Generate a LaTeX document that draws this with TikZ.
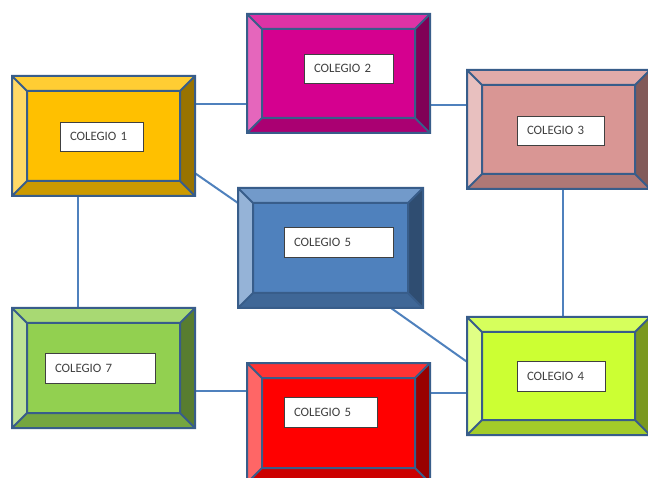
\documentclass[tikz,border=0pt]{standalone}
\usepackage{fontspec}
\setmainfont{Carlito}
\usetikzlibrary{calc}
\definecolor{outlc}{HTML}{385D8A}
\definecolor{linkc}{HTML}{4F81BD}
\definecolor{txtc}{HTML}{404040}
% yellow
\definecolor{yC}{HTML}{FFC000}\definecolor{yT}{HTML}{FFCD33}\definecolor{yL}{HTML}{FFD966}\definecolor{yR}{HTML}{997300}\definecolor{yB}{HTML}{CC9A00}
% magenta
\definecolor{mC}{HTML}{D5008F}\definecolor{mT}{HTML}{DD33A5}\definecolor{mL}{HTML}{E566BC}\definecolor{mR}{HTML}{800056}\definecolor{mB}{HTML}{AA0072}
% rose
\definecolor{rC}{HTML}{D99694}\definecolor{rT}{HTML}{E1ABA9}\definecolor{rL}{HTML}{E8C0BF}\definecolor{rR}{HTML}{825A59}\definecolor{rB}{HTML}{AE7876}
% blue
\definecolor{bC}{HTML}{4F81BD}\definecolor{bT}{HTML}{729ACA}\definecolor{bL}{HTML}{95B3D7}\definecolor{bR}{HTML}{2F4D71}\definecolor{bB}{HTML}{3F6797}
% green
\definecolor{gC}{HTML}{92D050}\definecolor{gT}{HTML}{A8D973}\definecolor{gL}{HTML}{BEE396}\definecolor{gR}{HTML}{587D30}\definecolor{gB}{HTML}{75A640}
% red
\definecolor{eC}{HTML}{FF0000}\definecolor{eT}{HTML}{FF3333}\definecolor{eL}{HTML}{FF6666}\definecolor{eR}{HTML}{990000}\definecolor{eB}{HTML}{CC0000}
% lime
\definecolor{lC}{HTML}{CCFF33}\definecolor{lT}{HTML}{D6FF5C}\definecolor{lL}{HTML}{E0FF85}\definecolor{lR}{HTML}{7A991F}\definecolor{lB}{HTML}{A3CC29}
\tikzset{
  bx/.style={rectangle, draw=none, inner sep=0pt, outer sep=0pt, minimum width=183pt, minimum height=120pt},
  outl/.style={draw=outlc, line width=2pt, line join=miter},
  link/.style={draw=linkc, line width=2pt},
  lbl/.style={rectangle, draw=black!75, line width=0.8pt, fill=white, inner xsep=10pt, inner ysep=0pt,
    minimum height=29pt, align=left, font=\fontsize{12.8}{14}\selectfont, text=txtc},
}
\newcommand\bevbox[6]{%
  \path (#1.north west) coordinate (#1-a) (#1.north east) coordinate (#1-b)
        (#1.south east) coordinate (#1-c) (#1.south west) coordinate (#1-d);
  \path ($(#1.north west)+(15pt,-15pt)$) coordinate (#1-A)
        ($(#1.north east)+(-15pt,-15pt)$) coordinate (#1-B)
        ($(#1.south east)+(-15pt,15pt)$) coordinate (#1-C)
        ($(#1.south west)+(15pt,15pt)$) coordinate (#1-D);
  \fill[#3] (#1-a)--(#1-b)--(#1-B)--(#1-A)--cycle;
  \fill[#5] (#1-b)--(#1-c)--(#1-C)--(#1-B)--cycle;
  \fill[#6] (#1-c)--(#1-d)--(#1-D)--(#1-C)--cycle;
  \fill[#4] (#1-d)--(#1-a)--(#1-A)--(#1-D)--cycle;
  \fill[#2] (#1-A) rectangle (#1-C);
  \draw[outl] (#1-a) rectangle (#1-c) (#1-A) rectangle (#1-C)
     (#1-a)--(#1-A) (#1-b)--(#1-B) (#1-c)--(#1-C) (#1-d)--(#1-D);
}
\begin{document}
\begin{tikzpicture}[x=1pt,y=1pt]
\clip (0,0) rectangle (648,477);
\fill[white] (0,0) rectangle (648,477);
% box frames
\node[bx] (c1) at (103.5,341) {};
\node[bx, minimum height=119pt] (c2) at (338.5,403.5) {};
\node[bx, minimum height=119pt] (c3) at (558.5,347.5) {};
\node[bx, minimum width=185pt] (c5) at (330.5,229) {};
\node[bx] (c7) at (103.5,109) {};
\node[bx] (c6) at (338.5,54) {};
\node[bx, minimum height=118pt] (c4) at (558.5,101) {};
% connectors
\draw[link] ($(c1.north east)!0.233!(c1.south east)$) coordinate (k1) -- (k1 -| c2.west);
\draw[link] ($(c2.north east)!0.765!(c2.south east)$) coordinate (k2) -- (k2 -| c3.west);
\draw[link] ($(c1.north east)!0.81!(c1.south east)$) -- ($(c5.north west)!0.125!(c5.south west)$);
\draw[link] ($(c1.south west)!0.36!(c1.south east)$) coordinate (k3) -- (k3 |- c7.north);
\draw[link] ($(c3.south west)!0.525!(c3.south east)$) coordinate (k4) -- (k4 |- c4.north);
\draw[link] ($(c5.south west)!0.827!(c5.south east)$) -- ($(c4.north west)!0.38!(c4.south west)$);
\draw[link] ($(c7.north east)!0.69!(c7.south east)$) coordinate (k5) -- (k5 -| c6.west);
\draw[link] ($(c6.north east)!0.25!(c6.south east)$) coordinate (k6) -- (k6 -| c4.west);
% boxes
\bevbox{c1}{yC}{yT}{yL}{yR}{yB}
\bevbox{c2}{mC}{mT}{mL}{mR}{mB}
\bevbox{c3}{rC}{rT}{rL}{rR}{rB}
\bevbox{c5}{bC}{bT}{bL}{bR}{bB}
\bevbox{c7}{gC}{gT}{gL}{gR}{gB}
\bevbox{c6}{eC}{eT}{eL}{eR}{eB}
\bevbox{c4}{lC}{lT}{lL}{lR}{lB}
% labels
\node[lbl, text width=63pt] (l1) at (101.5,340.5) {COLEGIO 1};
\node[lbl, text width=69pt] (l2) at (348.5,408.5) {COLEGIO 2};
\node[lbl, text width=67pt] (l3) at (560.5,346.5) {COLEGIO 3};
\node[lbl, text width=89pt, minimum height=30pt] (l5) at (338.5,235) {COLEGIO 5};
\node[lbl, text width=90pt, minimum height=30pt] (l7) at (100,109) {COLEGIO 7};
\node[lbl, text width=73pt, minimum height=30pt] (l6) at (330.5,65) {COLEGIO 5};
\node[lbl, text width=68pt, minimum height=30pt] (l4) at (561,101) {COLEGIO 4};
\end{tikzpicture}
\end{document}
